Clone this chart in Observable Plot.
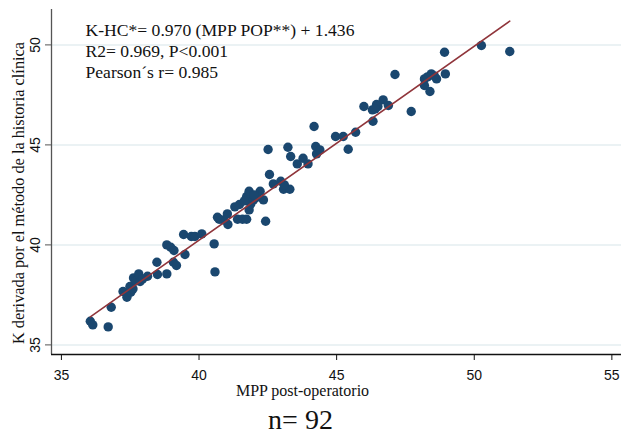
<!DOCTYPE html>
<html>
<head>
<meta charset="utf-8">
<script src="https://cdn.jsdelivr.net/npm/d3@7"></script>
<script src="https://cdn.jsdelivr.net/npm/@observablehq/plot@0.6"></script>
<style>
  html, body { margin: 0; padding: 0; background: #fff; }
</style>
</head>
<body>
<div id="chart"></div>
<script>
// MPP post-operatorio (x) values
const mppPost = [
  36.05, 36.14, 36.70, 36.81, 37.24, 37.38, 37.52, 37.49, 37.62, 37.70,
  37.81, 37.86, 38.13, 38.47, 38.49, 38.83, 38.83, 38.97, 39.09, 39.07,
  39.18, 39.49, 39.44, 39.72, 39.85, 40.10, 40.55, 40.58, 40.73, 40.89,
  41.03, 41.05, 41.40, 41.58, 41.73, 41.47, 41.73, 41.82, 41.82, 41.88,
  41.98, 42.10, 42.22, 42.34, 42.42, 42.56, 42.70, 42.97, 43.07, 43.30,
  42.51, 43.23, 43.33, 43.57, 43.78, 43.96, 44.18, 44.24, 44.27, 44.39,
  44.96, 45.24, 45.42, 45.69, 45.99, 46.30, 46.32, 46.45, 46.50, 46.69,
  46.88, 47.12, 47.71, 48.19, 48.19, 48.44, 48.39, 48.63, 48.95, 48.92,
  50.26, 51.29, 41.65, 42.00, 37.60, 37.95, 43.10, 46.40, 48.30, 48.55,
  41.30, 40.67
];
// K derivada por el método de la historia clínica (y) values
const kHC = [
  36.18, 36.00, 35.90, 36.88, 37.67, 37.38, 37.63, 37.92, 38.35, 38.20,
  38.55, 38.17, 38.43, 39.13, 38.52, 38.55, 40.00, 39.88, 39.72, 39.13,
  38.97, 39.52, 40.52, 40.42, 40.42, 40.55, 40.05, 38.65, 41.28, 41.25,
  41.55, 41.02, 41.28, 41.28, 41.28, 42.02, 42.42, 42.68, 41.75, 42.05,
  42.25, 42.38, 42.68, 42.25, 41.18, 43.52, 43.05, 43.18, 42.78, 42.78,
  44.77, 44.88, 44.42, 44.05, 44.33, 44.05, 45.92, 44.92, 44.55, 44.75,
  45.42, 45.42, 44.78, 45.63, 46.92, 46.75, 46.18, 47.02, 46.92, 47.25,
  46.97, 48.52, 46.67, 48.30, 47.97, 48.55, 47.67, 48.30, 48.55, 49.63,
  49.97, 49.67, 42.20, 42.50, 37.80, 38.30, 43.00, 46.80, 48.40, 48.45,
  41.90, 41.38
];
const xTicks = [35, 40, 45, 50, 55];
const yTicks = [35, 40, 45, 50];
const slope = 0.970, intercept = 1.436;
const annotation = "K-HC*= 0.970 (MPP POP**) + 1.436\nR2= 0.969, P<0.001\nPearson´s r= 0.985";
const xTitle = "MPP post-operatorio";
const yTitle = "K derivada por el método de la historia clínica";
const nLabel = "n= 92";

const points = mppPost.map((x, i) => ({x, y: kHC[i]}));
const xMin = d3.min(mppPost), xMax = d3.max(mppPost);
const fit = [xMin, xMax].map(x => ({x, y: slope * x + intercept}));

const xDom = [34.64, 55.35];
const yDom = [34.52, 51.77];
const serif = "'Liberation Serif', 'Times New Roman', serif";

const chart = Plot.plot({
  width: 621,
  height: 435,
  marginLeft: 51,
  marginRight: 0,
  marginTop: 9,
  marginBottom: 81,
  style: {fontFamily: "'Liberation Sans', Arial, sans-serif", fontSize: "14px", color: "#111", background: "#fff"},
  x: {domain: xDom, ticks: xTicks},
  y: {domain: yDom, ticks: yTicks},
  marks: [
    Plot.gridY(yTicks, {stroke: "#e4eef1", strokeOpacity: 1, strokeWidth: 1.5}),
    Plot.ruleX([xDom[0]], {stroke: "#555", strokeWidth: 1.3}),
    Plot.ruleY([yDom[0]], {stroke: "#111", strokeWidth: 1.3}),
    Plot.axisX(xTicks, {tickSize: 6, tickPadding: 9.5, fontSize: 14, label: null, stroke: "#111"}),
    Plot.axisY(yTicks, {tickSize: 6, tickPadding: 5.5, tickRotate: -90, fontSize: 14, label: null, stroke: "#555"}),
    Plot.dot(points, {x: "x", y: "y", r: 4.7, fill: "#1a476f", stroke: "none"}),
    Plot.line(fit, {x: "x", y: "y", stroke: "#90353b", strokeWidth: 1.6}),
    Plot.text([annotation], {frameAnchor: "top-left", dx: 34, dy: 11.5, textAnchor: "start", lineAnchor: "top", lineHeight: 1.2, fontSize: 17.6, fontFamily: serif, fill: "#111"}),
    Plot.text([xTitle], {frameAnchor: "bottom", dx: -34, dy: 41, lineAnchor: "bottom", fontSize: 16, fontFamily: serif, fill: "#111"}),
    Plot.text([yTitle], {frameAnchor: "left", dx: -28, dy: 11, rotate: -90, textAnchor: "middle", lineAnchor: "bottom", fontSize: 16.3, fontFamily: serif, fill: "#111"}),
    Plot.text([nLabel], {frameAnchor: "bottom", dx: -36, dy: 74, lineAnchor: "bottom", fontSize: 28, fontFamily: serif, fill: "#111"})
  ]
});
document.getElementById("chart").appendChild(chart);
</script>
</body>
</html>
